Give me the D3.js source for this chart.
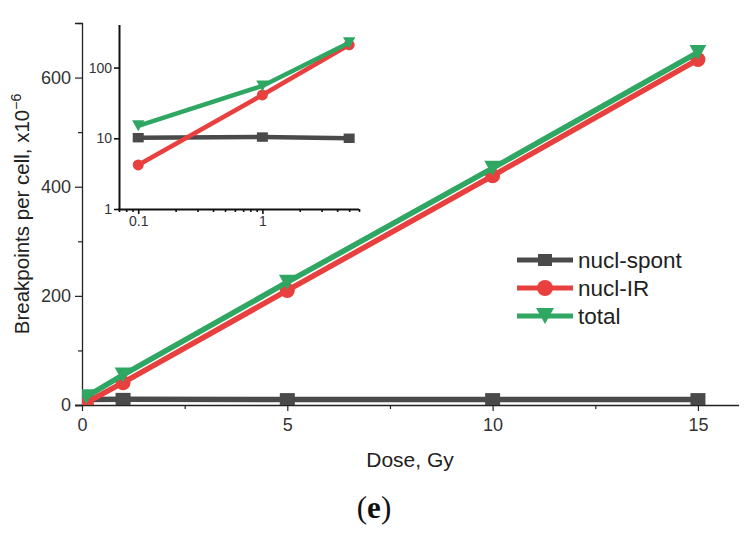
<!DOCTYPE html>
<html>
<head>
<meta charset="utf-8">
<script src="https://cdn.jsdelivr.net/npm/d3@7"></script>
<style>
  body { margin: 0; background: #fff; }
  svg { display: block; font-family: "Liberation Sans", Arial, sans-serif; }
  .tick text { fill: #333; }
</style>
</head>
<body>
<div id="chart"></div>
<script>
// --- Data ---
const doses = [0.1, 1, 5, 10, 15];
const spont = [10.2, 10.4, 10, 10, 10];
const nuclIR = [4.2, 41, 210, 420, 633];
const total = [15, 55, 225, 434, 646];

const seriesNames = ["nucl-spont", "nucl-IR", "total"];
const seriesColors = ["#4a4a4a", "#e8403e", "#2fa763"];
const seriesShapes = ["square", "circle", "triangle"];
const seriesValues = [spont, nuclIR, total];

const mainYTicks = [0, 100, 200, 300, 400, 500, 600, 700];
const mainXTicks = [0, 2.5, 5, 7.5, 10, 12.5, 15];
const insetYTicks = [1, 10, 100];

// --- Setup ---
const W = 754, H = 537;
const svg = d3.select("#chart").append("svg").attr("width", W).attr("height", H);

const x = d3.scaleLinear().domain([0, 16]).range([82, 739]);
const y = d3.scaleLinear().domain([0, 700]).range([405, 23]);

const xi = d3.scaleLog().domain([0.07, 6]).range([119, 359]);
const yi = d3.scaleLog().domain([1, 400]).range([209, 25]);

const series = seriesNames.map((name, i) => ({
  name, color: seriesColors[i], shape: seriesShapes[i],
  points: doses.map((d, j) => ({ d, v: seriesValues[i][j] }))
}));

// marker drawing
function drawMarker(sel, shape, color, s) {
  if (shape === "square") {
    sel.append("rect").attr("x", -s * 0.5).attr("y", -s * 0.43).attr("width", s).attr("height", s * 0.86).attr("fill", color);
  } else if (shape === "circle") {
    sel.append("circle").attr("r", s * 0.5).attr("fill", color);
  } else {
    const w = s * 1.12, h = s * 1.0;
    sel.append("path").attr("d", `M${-w / 2},${-h / 2}L${w / 2},${-h / 2}L0,${h / 2}Z`).attr("fill", color);
  }
}

// --- Main axes ---
const yAxis = d3.axisLeft(y).tickValues(mainYTicks).tickSize(7).tickPadding(4)
  .tickFormat(d => d % 200 === 0 ? d : "");
const gy = svg.append("g").attr("transform", "translate(82,0)").call(yAxis);
gy.selectAll(".tick line").filter(d => d % 200 !== 0).attr("x2", -4);

const xAxis = d3.axisBottom(x).tickValues(mainXTicks).tickSize(6).tickPadding(7)
  .tickFormat(d => d % 5 === 0 ? d : "");
const gx = svg.append("g").attr("transform", "translate(0,405)").call(xAxis);
gx.selectAll(".tick line").filter(d => d % 5 !== 0).attr("y2", 4);

[gx, gy].forEach(g => {
  g.select(".domain").attr("stroke", "#222").attr("stroke-width", 1.3);
  g.selectAll(".tick line").attr("stroke", "#222").attr("stroke-width", 1.2);
  g.selectAll(".tick text").attr("font-size", 18).attr("font-family", "Liberation Sans, Arial, sans-serif");
});
gx.select(".domain").attr("d", "M75,0.5H739");

// axis titles
svg.append("text").attr("x", 410).attr("y", 467).attr("text-anchor", "middle")
  .attr("font-size", 21).attr("fill", "#222").text("Dose, Gy");

const yl = svg.append("text").attr("transform", "translate(29,214) rotate(-90)")
  .attr("text-anchor", "middle").attr("font-size", 20.5).attr("fill", "#222");
yl.append("tspan").text("Breakpoints per cell, x10");
yl.append("tspan").attr("dy", -8).attr("font-size", 14).text("\u22126");

// --- Main data ---
svg.append("clipPath").attr("id", "clipMain").append("rect")
  .attr("x", 82).attr("y", 15).attr("width", 670).attr("height", 390);

const plot = svg.append("g").attr("clip-path", "url(#clipMain)");
const line = d3.line().x(p => x(p.d)).y(p => y(p.v));

series.forEach(s => {
  const g = plot.append("g");
  g.append("path").datum(s.points).attr("d", line)
    .attr("fill", "none").attr("stroke", s.color).attr("stroke-width", 5.5);
  g.selectAll("g.m").data(s.points).join("g").attr("class", "m")
    .attr("transform", p => `translate(${x(p.d)},${y(p.v)})`)
    .each(function () { drawMarker(d3.select(this), s.shape, s.color, 15); });
});

// --- Legend ---
const legend = svg.append("g");
series.forEach((s, i) => {
  const ry = 260 + i * 28;
  const g = legend.append("g").attr("transform", `translate(545,${ry})`);
  g.append("line").attr("x1", -28).attr("x2", 28).attr("stroke", s.color).attr("stroke-width", 5);
  drawMarker(g, s.shape, s.color, s.shape === "square" ? 14 : 16);
  legend.append("text").attr("x", 578).attr("y", ry).attr("dy", "0.36em")
    .attr("font-size", 22.5).attr("fill", "#222").text(s.name);
});

// --- Inset ---
const inset = svg.append("g");
const xiTicks = xi.ticks();
const xiAxis = d3.axisBottom(xi).tickValues(xiTicks).tickSize(3).tickPadding(4)
  .tickFormat(d => (d === 0.1 || d === 1) ? d : "");
const gxi = inset.append("g").attr("transform", "translate(0,209)").call(xiAxis);
gxi.selectAll(".tick line").filter(d => d === 0.1 || d === 1).attr("y2", 5);

const yiAxis = d3.axisLeft(yi).tickValues(insetYTicks).tickSize(5).tickPadding(2)
  .tickFormat(d => d);
const gyi = inset.append("g").attr("transform", "translate(119,0)").call(yiAxis);

[gxi, gyi].forEach(g => {
  g.select(".domain").attr("stroke", "#111").attr("stroke-width", 2);
  g.selectAll(".tick line").attr("stroke", "#111").attr("stroke-width", 1.6);
  g.selectAll(".tick text").attr("font-size", 14).attr("font-family", "Liberation Sans, Arial, sans-serif");
});
gxi.select(".domain").attr("d", "M118,0.5H359");
gyi.select(".domain").attr("d", "M0.5,210V25");

svg.append("clipPath").attr("id", "clipInset").append("rect")
  .attr("x", 119).attr("y", 20).attr("width", 240).attr("height", 189);
const iplot = inset.append("g").attr("clip-path", "url(#clipInset)");
const iline = d3.line().x(p => xi(p.d)).y(p => yi(p.v));

series.forEach(s => {
  const pts = s.points.filter(p => p.d <= 6);
  const g = iplot.append("g");
  g.append("path").datum(pts).attr("d", iline)
    .attr("fill", "none").attr("stroke", s.color).attr("stroke-width", 4.5);
  g.selectAll("g.m").data(pts).join("g").attr("class", "m")
    .attr("transform", p => `translate(${xi(p.d)},${yi(p.v)})`)
    .each(function () { drawMarker(d3.select(this), s.shape, s.color, 11); });
});

// --- Panel label ---
const pl = svg.append("text").attr("x", 374).attr("y", 518).attr("text-anchor", "middle")
  .attr("font-family", "Liberation Serif, Times New Roman, serif").attr("font-size", 31).attr("fill", "#111");
pl.append("tspan").text("(");
pl.append("tspan").attr("font-weight", "bold").text("e");
pl.append("tspan").text(")");
</script>
</body>
</html>
